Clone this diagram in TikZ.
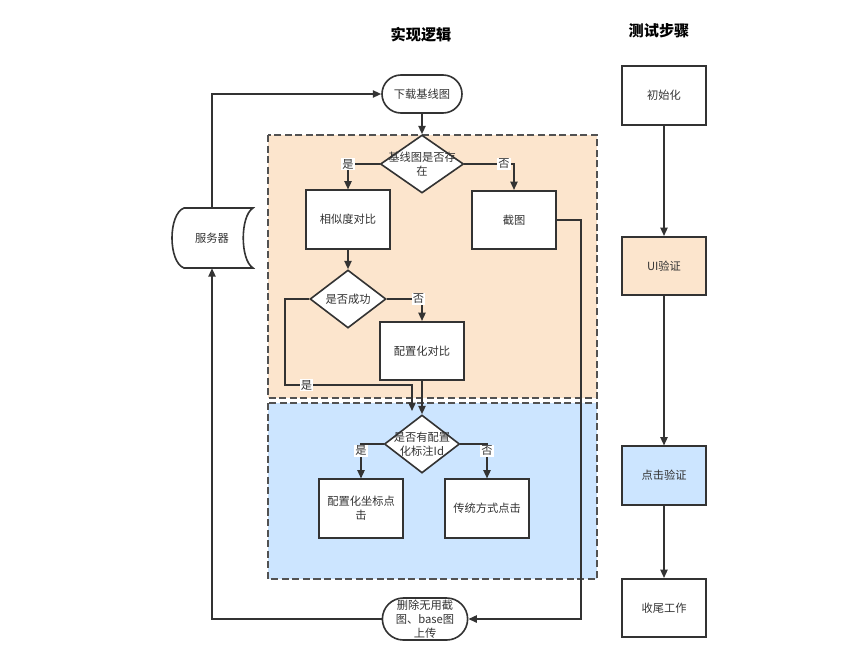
\documentclass[tikz,border=0pt]{standalone}
\usepackage{fontspec}
\setmainfont{Noto Sans CJK SC}
\usepackage{tikz}
\usetikzlibrary{shapes.geometric,shapes.misc,arrows.meta}
\definecolor{peach}{RGB}{252,229,205}
\definecolor{skyblue}{RGB}{204,229,255}
\definecolor{ink}{RGB}{51,51,51}

\begin{document}
\begin{tikzpicture}[x=0.025cm, y=-0.025cm,
  every node/.style={font=\fontsize{8}{9.8}\selectfont, text=ink},
  line/.style={draw=ink, line width=1.15pt},
  arr/.style={line, -{Triangle[length=6pt,width=5.2pt]}},
  proc/.style={draw=ink, line width=1.15pt, fill=white, minimum width=2.1cm, minimum height=1.46cm, align=center},
  term/.style={rounded rectangle, draw=ink, line width=1.15pt, fill=white, minimum width=2.07cm, align=center, inner sep=1pt},
  cond/.style={diamond, draw=ink, line width=1.15pt, fill=white, inner sep=0pt},
  lbl/.style={fill=white, inner sep=0.8pt},
  zone/.style={draw=ink!85, line width=1.2pt, dash pattern=on 5pt off 2.5pt},
  title/.style={font=\fontsize{10.8}{12}\selectfont\bfseries, text=black}]
  \useasboundingbox (0,0) rectangle (847,659);
  % titles
  \node[title] (t1) at (421,35) {实现逻辑};
  \node[title] (t2) at (659,31) {测试步骤};
  % dashed zones
  \draw[zone, fill=peach] (268,135) rectangle (597,398);
  \draw[zone, fill=skyblue] (268,403) rectangle (597,579);
  % server (stored data)
  \draw[line, fill=white] (184,208) -- (253,208) .. controls (240,216) and (240,260) .. (253,268)
    -- (184,268) .. controls (168,262) and (168,214) .. (184,208) -- cycle;
  \node[minimum height=1.5cm] (srv) at (212,238) {服务器};
  % logic
  \node[term, minimum height=0.95cm] (dl) at (422,94) {下载基线图};
  \node[cond, minimum width=2.08cm, minimum height=1.45cm] (d1) at (422,164) {};
  \node[align=center] (d1t) at (d1) {基线图是否存\\在};
  \node[proc] (sim) at (348,219.5) {相似度对比};
  \node[proc] (shot) at (514,220) {截图};
  \node[cond, minimum width=1.9cm, minimum height=1.45cm] (d2) at (348,299) {};
  \node (d2t) at (d2) {是否成功};
  \node[proc] (cfgcmp) at (422,351) {配置化对比};
  \node[cond, minimum width=1.88cm, minimum height=1.45cm] (d3) at (422,444) {};
  \node[align=center] (d3t) at (d3) {是否有配置\\化标注Id};
  \node[proc] (cfgclick) at (361,508.5) {配置化坐标点\\击};
  \node[proc] (oldclick) at (487,508.5) {传统方式点击};
  \node[term, minimum height=1.05cm] (del) at (425,619) {删除无用截\\图、base图\\上传};
  \coordinate (c1) at (285,385);
  \coordinate (j1) at (412,411);
  \coordinate (c2) at (581,619);
  % test steps
  \node[proc] (init) at (664,95.5) {初始化};
  \node[proc, fill=peach] (ui) at (664,266) {UI验证};
  \node[proc, fill=skyblue] (click) at (664,475.5) {点击验证};
  \node[proc] (fin) at (664,608) {收尾工作};
  % edges
  \draw[arr] (srv.north) |- (dl.west);
  \draw[arr] (dl.south) -- (d1.north);
  \draw[arr] (d1.west) -| node[lbl, pos=0.5] (y1) {是} (sim.north);
  \draw[arr] (d1.east) -| node[lbl, pos=0.4] (n1) {否} (shot.north);
  \draw[arr] (sim.south) -- (d2.north);
  \draw[arr] (d2.east) -| node[lbl, pos=0.45] (n2) {否} (cfgcmp.north);
  \draw[arr] (d2.west) -| (c1) -- node[lbl, pos=0.17] (y2) {是} (c1 -| j1) -- (j1);
  \draw[arr] (cfgcmp.south) -- (d3.north);
  \draw[arr] (d3.west) -| node[lbl, pos=0.6] (y3) {是} (cfgclick.north);
  \draw[arr] (d3.east) -| node[lbl, pos=0.6] (n3) {否} (oldclick.north);
  \draw[arr] (shot.east) -| (c2) -- (del.east);
  \draw[arr] (del.west) -| (srv.south);
  \foreach \a/\b in {init/ui, ui/click, click/fin}
    \draw[arr] (\a) -- (\b);
\end{tikzpicture}
\end{document}
